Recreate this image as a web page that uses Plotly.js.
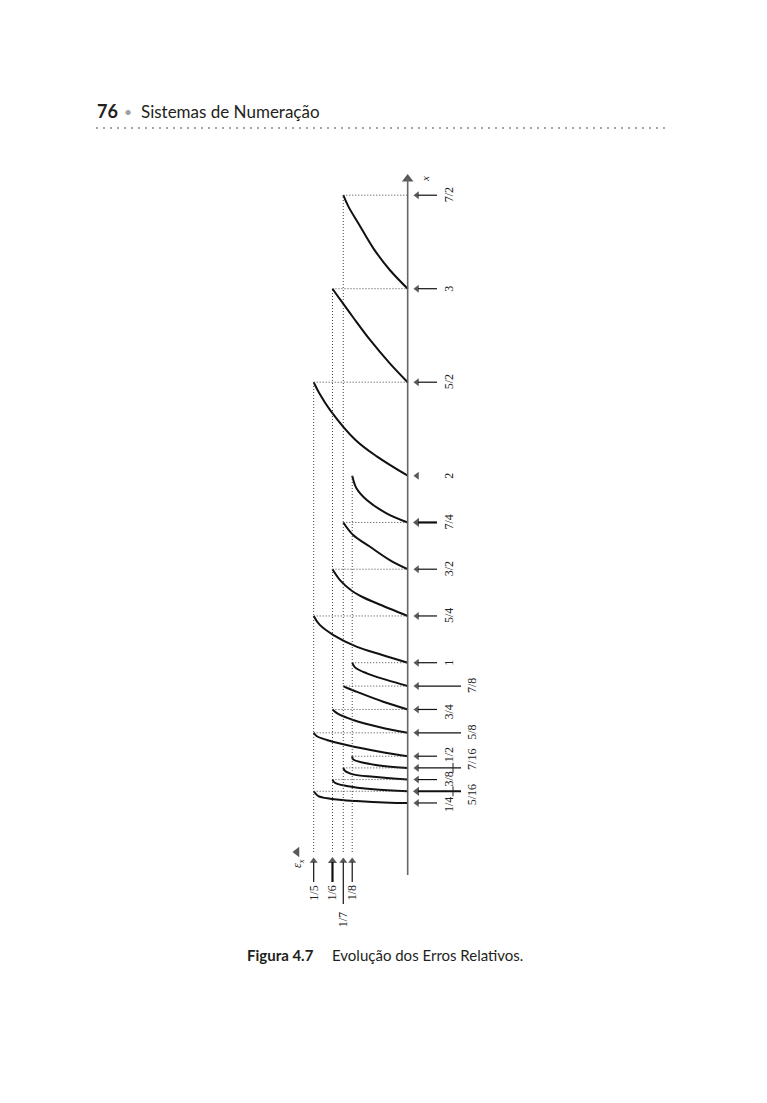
<!DOCTYPE html>
<html>
<head>
<meta charset="utf-8">
<script src="https://cdn.plot.ly/plotly-3.0.1.min.js"></script>
<style>
  html, body { margin: 0; padding: 0; background: #ffffff; }
  #chart { width: 767px; height: 1103px; }
</style>
</head>
<body>
<div id="chart"></div>
<script>
// ---------- data ----------
// x values (vertical axis) of the marked points and their labels
const tickVals   = [0.25, 0.3125, 0.375, 0.4375, 0.5, 0.625, 0.75, 0.875, 1, 1.25, 1.5, 1.75, 2, 2.5, 3, 3.5];
const tickLabels = ['1/4', '5/16', '3/8', '7/16', '1/2', '5/8', '3/4', '7/8', '1', '5/4', '3/2', '7/4', '2', '5/2', '3', '7/2'];

// relative-error levels (horizontal axis) and their labels
const levelVals   = [0.2, 0.16, 0.137, 0.118];
const levelLabels = ['1/5', '1/6', '1/7', '1/8'];
// highest x reached by each level's guide line
const levelTops   = [2.5, 3, 3.5, 2];

// points: x (vertical) and relative error (horizontal)
const curveX = [
  [0.25, 0.251, 0.260, 0.273, 0.287, 0.3125],
  [0.3125, 0.323, 0.341, 0.358, 0.375],
  [0.375, 0.390, 0.403, 0.421, 0.4375],
  [0.4375, 0.448, 0.465, 0.483, 0.5],
  [0.5, 0.524, 0.560, 0.587, 0.608, 0.625],
  [0.625, 0.655, 0.694, 0.726, 0.75],
  [0.75, 0.791, 0.845, 0.862, 0.875],
  [0.875, 0.908, 0.943, 0.975, 1],
  [1, 1.041, 1.086, 1.148, 1.202, 1.25],
  [1.25, 1.318, 1.350, 1.389, 1.442, 1.5],
  [1.5, 1.549, 1.620, 1.683, 1.75],
  [1.75, 1.799, 1.870, 1.933, 2],
  [2, 2.102, 2.191, 2.351, 2.441, 2.5],
  [2.5, 2.601, 2.726, 2.850, 2.940, 3],
  [3, 3.1, 3.216, 3.35, 3.439, 3.5]
];
const curveE = [
  [0, 0.038, 0.109, 0.165, 0.190, 0.2],
  [0, 0.073, 0.130, 0.155, 0.160],
  [0, 0.073, 0.116, 0.133, 0.137],
  [0, 0.052, 0.094, 0.116, 0.118],
  [0, 0.059, 0.130, 0.172, 0.194, 0.2],
  [0, 0.059, 0.116, 0.148, 0.160],
  [0, 0.052, 0.109, 0.126, 0.137],
  [0, 0.045, 0.087, 0.112, 0.118],
  [0, 0.054, 0.109, 0.158, 0.187, 0.2],
  [0, 0.066, 0.095, 0.121, 0.144, 0.160],
  [0, 0.038, 0.080, 0.116, 0.137],
  [0, 0.045, 0.087, 0.109, 0.118],
  [0, 0.065, 0.111, 0.165, 0.188, 0.2],
  [0, 0.038, 0.080, 0.117, 0.143, 0.160],
  [0, 0.038, 0.073, 0.105, 0.126, 0.137]
];

// texts of the page
const pageNumber = '76';
const runningHead = 'Sistemas de Numeração';
const captionLead = 'Figura 4.7';
const captionText = 'Evolução dos Erros Relativos.';

// ---------- layout helpers (page geometry, not data) ----------
const W = 767, H = 1103;
const eRange = [0.8674, -0.7645];   // error axis grows to the left
const xRange = [-1.3545, 4.5439];   // x axis grows upward
function eAt(px) { return eRange[0] + (eRange[1] - eRange[0]) * px / W; }
function xAt(py) { return xRange[1] - (xRange[1] - xRange[0]) * py / H; }
const pxUnitX = H / (xRange[1] - xRange[0]);

const secondColumn = ['5/16', '7/16', '5/8', '7/8'];
const boldArrows = ['5/16', '7/4'];
const labelShift = { '7/16': 8, '5/16': -4, '1/4': -2, '3/4': -3, '1/2': 1 };
const noGuideAt = [2];
const serif = 'Liberation Serif, Times New Roman, serif';
const ink = '#111111';

const traces = [];
const shapes = [];
const annotations = [];

function lineShape(x0, y0, x1, y1, width, color, dash) {
  const s = { type: 'line', xref: 'x', yref: 'y', x0: x0, y0: y0, x1: x1, y1: y1,
    line: { color: color, width: width } };
  if (dash) s.line.dash = dash;
  shapes.push(s);
}

// x axis line
lineShape(0, xAt(875), 0, xAt(178), 1.6, '#666666');

// guide lines: vertical, one per error level
levelVals.forEach((lv, i) => {
  lineShape(lv, xAt(852), lv, levelTops[i], 1, '#444444', '1px,2px');
});

// curves + horizontal guide from each curve end to the axis
curveX.forEach((xs, i) => {
  const es = curveE[i];
  const endX = xs[xs.length - 1], endE = es[es.length - 1];
  if (noGuideAt.indexOf(endX) < 0) {
    lineShape(endE, endX, 0, endX, 1, '#444444', '1px,2px');
  }
  traces.push({ type: 'scatter', mode: 'lines', x: es, y: xs,
    line: { color: ink, width: 2, shape: 'spline', smoothing: 1 },
    hoverinfo: 'skip' });
});

// arrowheads collected into marker traces
const headLeftX = [], headLeftY = [], headLeftSize = [];
const headUpX = [], headUpY = [], headUpSize = [];

// axis arrowheads
headUpX.push(0); headUpY.push(xAt(179)); headUpSize.push(10);
headLeftX.push(eAt(297)); headLeftY.push(xAt(852)); headLeftSize.push(9);

// right-hand arrows and labels
tickVals.forEach((tv, i) => {
  const lab = tickLabels[i];
  const col2 = secondColumn.indexOf(lab) >= 0;
  const bold = boldArrows.indexOf(lab) >= 0;
  headLeftX.push(eAt(417)); headLeftY.push(tv); headLeftSize.push(bold ? 8 : 7);
  if (tv !== 2) {
    lineShape(eAt(418), tv, col2 ? eAt(461) : eAt(437), tv, bold ? 2.2 : 1.2, ink);
  }
  annotations.push({ xref: 'x', yref: 'y', x: col2 ? eAt(472) : eAt(449), y: tv,
    yshift: labelShift[lab] || 0, text: lab, textangle: -90, showarrow: false,
    xanchor: 'center', yanchor: 'middle',
    font: { family: serif, size: 12, color: '#222222' } });
  if (lab === '7/16' || lab === '5/16') {
    lineShape(eAt(453), tv - 5 / pxUnitX, eAt(453), tv + 5 / pxUnitX, 1, '#222222');
  }
});

// bottom arrows and labels for error levels
levelVals.forEach((lv, i) => {
  const longTail = levelLabels[i] === '1/7';
  const bold = levelLabels[i] === '1/6';
  headUpX.push(lv); headUpY.push(xAt(861)); headUpSize.push(bold ? 8 : 7);
  lineShape(lv, xAt(862), lv, longTail ? xAt(904) : xAt(882), bold ? 2.2 : 1.2, ink);
  annotations.push({ xref: 'x', yref: 'y', x: lv, y: longTail ? xAt(920) : xAt(893),
    text: levelLabels[i], textangle: -90, showarrow: false, xanchor: 'center', yanchor: 'middle',
    font: { family: serif, size: 12, color: '#222222' } });
});

traces.push({ type: 'scatter', mode: 'markers', x: headLeftX, y: headLeftY,
  marker: { symbol: 'triangle-left', size: headLeftSize, color: ink, line: { width: 0 } }, hoverinfo: 'skip' });
traces.push({ type: 'scatter', mode: 'markers', x: headUpX, y: headUpY,
  marker: { symbol: 'triangle-up', size: headUpSize, color: ink, line: { width: 0 } }, hoverinfo: 'skip' });

// axis names
annotations.push({ xref: 'x', yref: 'y', x: eAt(425), y: xAt(179), text: '<i>x</i>', textangle: -90,
  showarrow: false, font: { family: serif, size: 11, color: '#222222' } });
annotations.push({ xref: 'x', yref: 'y', x: eAt(298), y: xAt(864), text: '<i>ε<sub>x</sub></i>', textangle: -90,
  showarrow: false, font: { family: serif, size: 12, color: '#222222' } });

// running head
annotations.push({ xref: 'paper', yref: 'paper', x: 95 / W, y: 1 - 111 / H, xanchor: 'left', yanchor: 'middle',
  text: '<b>' + pageNumber + '</b>', showarrow: false, font: { family: 'Lato, sans-serif', size: 18, color: '#231f20' } });
annotations.push({ xref: 'paper', yref: 'paper', x: 128 / W, y: 1 - 111 / H, xanchor: 'center', yanchor: 'middle',
  text: '•', showarrow: false, font: { family: 'Lato, sans-serif', size: 14, color: '#a0a0a0' } });
annotations.push({ xref: 'paper', yref: 'paper', x: 139 / W, y: 1 - 111 / H, xanchor: 'left', yanchor: 'middle',
  text: runningHead, showarrow: false, font: { family: 'Lato, sans-serif', size: 17, color: '#231f20' } });
shapes.push({ type: 'line', xref: 'paper', yref: 'paper', x0: 96 / W, x1: 670 / W, y0: 1 - 128 / H, y1: 1 - 128 / H,
  line: { color: '#a8a8a8', width: 2, dash: '2px,5px' } });

// caption
annotations.push({ xref: 'paper', yref: 'paper', x: 245 / W, y: 1 - 955 / H, xanchor: 'left', yanchor: 'middle',
  text: '<b>' + captionLead + '</b>', showarrow: false, font: { family: 'Lato, sans-serif', size: 15, color: '#231f20' } });
annotations.push({ xref: 'paper', yref: 'paper', x: 330 / W, y: 1 - 955 / H, xanchor: 'left', yanchor: 'middle',
  text: captionText, showarrow: false, font: { family: 'Lato, sans-serif', size: 15, color: '#231f20' } });

const layout = {
  width: W, height: H,
  margin: { l: 0, r: 0, t: 0, b: 0, pad: 0 },
  showlegend: false,
  paper_bgcolor: '#ffffff', plot_bgcolor: '#ffffff',
  xaxis: { range: eRange, visible: false, fixedrange: true, showgrid: false, zeroline: false },
  yaxis: { range: xRange, visible: false, fixedrange: true, showgrid: false, zeroline: false },
  shapes: shapes,
  annotations: annotations
};

Plotly.newPlot('chart', traces, layout, { staticPlot: true, displayModeBar: false });
</script>
</body>
</html>
